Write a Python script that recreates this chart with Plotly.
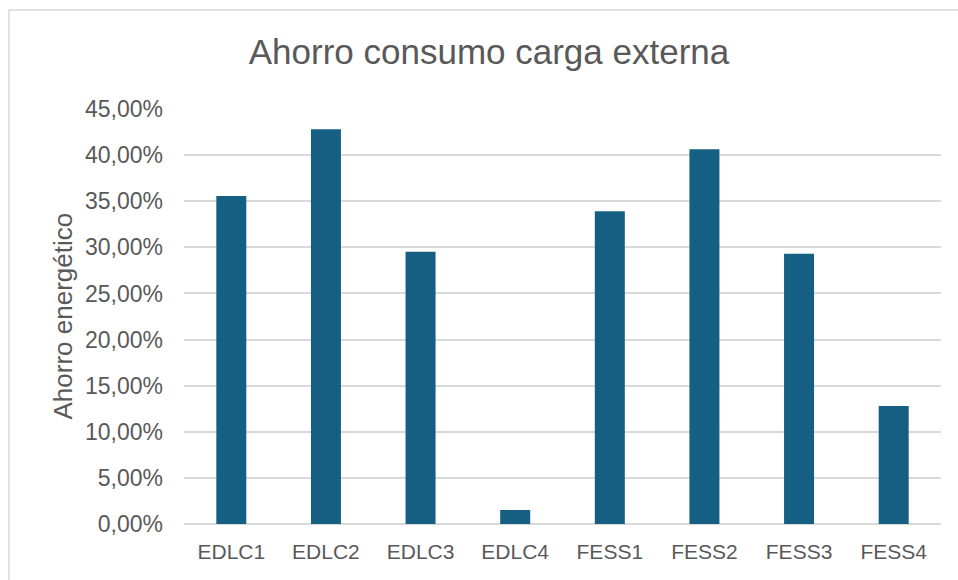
import plotly.graph_objects as go

# Ahorro energético por sistema de almacenamiento
categorias = ["EDLC1", "EDLC2", "EDLC3", "EDLC4", "FESS1", "FESS2", "FESS3", "FESS4"]
ahorro = [0.3557, 0.4280, 0.2953, 0.0152, 0.3390, 0.4063, 0.2931, 0.1280]
ticks_y = [0.0, 0.05, 0.10, 0.15, 0.20, 0.25, 0.30, 0.35, 0.40, 0.45]
etiquetas_y = [f"{v*100:.2f}%".replace(".", ",") for v in ticks_y]

W, H = 958, 580
L, R, T, B = 184, 17, 109, 56
pw, ph = W - L - R, H - T - B

texto = "#595959"
rejilla = "#d9d9d9"
fuente = "Liberation Sans, Arial, sans-serif"

fig = go.Figure(
    go.Bar(
        x=categorias,
        y=ahorro,
        marker=dict(color="#156082", line=dict(width=0)),
        width=0.317,
        hoverinfo="x+y",
    )
)

# Marco exterior del gráfico
fig.add_shape(
    type="rect", xref="paper", yref="paper",
    x0=(9 - L) / pw, x1=(W + 10 - L) / pw,
    y0=-(H + 10 - (H - B)) / ph, y1=1 + (T - 10) / ph,
    line=dict(color=rejilla, width=1.5), fillcolor="rgba(0,0,0,0)", layer="below",
)

# Título del eje vertical
fig.add_annotation(
    text="Ahorro energético", xref="paper", yref="paper",
    x=(62 - L) / pw, y=0.5, xanchor="center", yanchor="middle",
    textangle=-90, showarrow=False,
    font=dict(family=fuente, size=26, color=texto),
)

fig.update_layout(
    width=W, height=H,
    margin=dict(l=L, r=R, t=T, b=B),
    paper_bgcolor="white", plot_bgcolor="white",
    showlegend=False,
    title=dict(
        text="Ahorro consumo carga externa",
        x=489 / W, xanchor="center", xref="container",
        y=1 - 52 / H, yanchor="middle", yref="container",
        font=dict(family=fuente, size=35, color=texto),
    ),
    xaxis=dict(
        showgrid=False, showline=False, zeroline=False,
        tickfont=dict(family=fuente, size=21, color=texto),
        ticklabelstandoff=13, automargin=False,
    ),
    yaxis=dict(
        range=[0, 0.45],
        tickvals=ticks_y, ticktext=etiquetas_y,
        showgrid=True, gridcolor=rejilla, gridwidth=1.5,
        zeroline=True, zerolinecolor=rejilla, zerolinewidth=1.5,
        showline=False,
        tickfont=dict(family=fuente, size=23, color=texto),
        ticklabelstandoff=20, automargin=False,
    ),
)

fig.write_html("out.html")
